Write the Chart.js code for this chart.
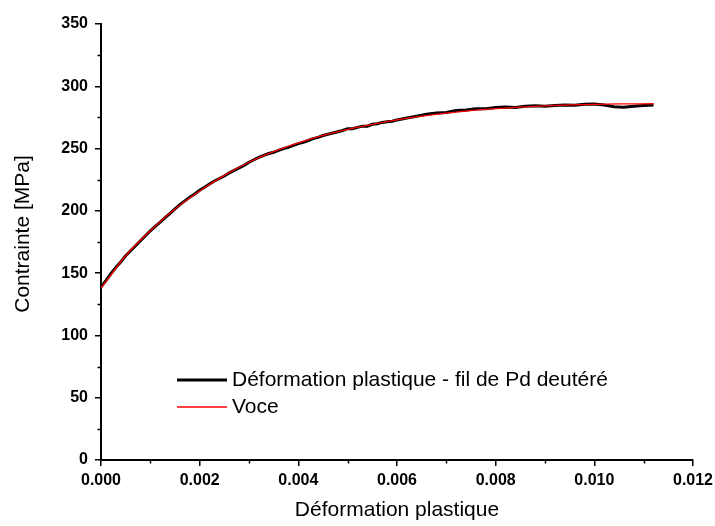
<!DOCTYPE html>
<html>
<head>
<meta charset="utf-8">
<script src="https://cdn.jsdelivr.net/npm/chart.js@4.4.1/dist/chart.umd.min.js"></script>
<style>
  html, body { margin: 0; padding: 0; background: #fff; }
  #wrap { width: 715px; height: 526px; }
</style>
</head>
<body>
<div id="wrap"><canvas id="c" width="715" height="526"></canvas></div>
<script>
// measured curve (black)
var strain = [0.0000, 0.0001, 0.0002, 0.0003, 0.0004, 0.0005, 0.0006, 0.0007, 0.0008, 0.0009,
  0.0010, 0.0011, 0.0012, 0.0013, 0.0014, 0.0015, 0.0016, 0.0017, 0.0018, 0.0019,
  0.0020, 0.0021, 0.0022, 0.0023, 0.0024, 0.0025, 0.0026, 0.0027, 0.0028, 0.0029,
  0.0030, 0.0031, 0.0032, 0.0033, 0.0034, 0.0035, 0.0036, 0.0037, 0.0038, 0.0039,
  0.0040, 0.0041, 0.0042, 0.0043, 0.0044, 0.0045, 0.0046, 0.0047, 0.0048, 0.0049,
  0.0050, 0.0051, 0.0052, 0.0053, 0.0054, 0.0055, 0.0056, 0.0057, 0.0058, 0.0059,
  0.0060, 0.0062, 0.0064, 0.0066, 0.0068, 0.0070, 0.0072, 0.0074, 0.0076, 0.0078,
  0.0080, 0.0082, 0.0084, 0.0086, 0.0088, 0.0090, 0.0092, 0.0094, 0.0096, 0.0098,
  0.0100, 0.0102, 0.0104, 0.0106, 0.0108, 0.0110, 0.0112];
var stress = [139, 144, 149.5, 154.5, 159, 164, 168, 172, 176, 180,
  184, 187.5, 191, 194.5, 198, 201.5, 205, 208, 211, 213.5,
  216.5, 219, 221.5, 224, 226, 228, 230.5, 232.5, 234.5, 236.5,
  239, 241, 243, 244.5, 246, 247, 248.5, 250, 251, 252.5,
  254, 255, 256.5, 258, 259, 260.5, 261.5, 262.5, 263.5, 264.5,
  266, 266, 267, 268, 268, 269.5, 270, 271, 271.5, 272,
  273, 274.5, 276, 277.5, 278.5, 279, 280.5, 281, 282, 282,
  283, 283.3, 283, 284, 284.3, 284, 284.5, 285, 284.8, 285.5,
  285.8, 285, 283.5, 283.2, 284, 284.5, 285];

// Voce fit (red)
var voceStrain = [0.0000, 0.0005, 0.0010, 0.0015, 0.0020, 0.0025, 0.0030, 0.0035, 0.0040, 0.0045,
  0.0050, 0.0055, 0.0060, 0.0065, 0.0070, 0.0075, 0.0080, 0.0085, 0.0090, 0.0095,
  0.0100, 0.0105, 0.0112];
var voceStress = [138, 164, 184, 201.5, 216, 228.5, 239, 247.5, 254.5, 260.5,
  265.5, 269.5, 273, 276, 278.5, 280.5, 282, 283.2, 284.2, 285,
  285.5, 285.8, 286];

var xTicks = [0, 0.002, 0.004, 0.006, 0.008, 0.010, 0.012];
var yTicks = [0, 50, 100, 150, 200, 250, 300, 350];

var legendLabels = ['Déformation plastique - fil de Pd deutéré', 'Voce'];
var yTitle = 'Contrainte [MPa]';

function pts(xs, ys) {
  return xs.map(function (x, i) { return { x: x, y: ys[i] }; });
}

var FONT = '"Liberation Sans", Arial, sans-serif';

// minor ticks, y title and in-plot legend
var extras = {
  id: 'extras',
  afterDraw: function (chart) {
    var ctx = chart.ctx, xs = chart.scales.x, ys = chart.scales.y, a = chart.chartArea;
    ctx.save();
    ctx.strokeStyle = '#000';
    ctx.lineWidth = 1.5;
    ctx.beginPath();
    for (var v = 0.001; v < 0.012; v += 0.002) {
      var px = Math.round(xs.getPixelForValue(v)) + 0.5;
      ctx.moveTo(px, a.bottom); ctx.lineTo(px, a.bottom + 3.5);
    }
    for (var w = 25; w < 350; w += 50) {
      var py = Math.round(ys.getPixelForValue(w)) + 0.5;
      ctx.moveTo(a.left, py); ctx.lineTo(a.left - 3.5, py);
    }
    ctx.stroke();

    ctx.fillStyle = '#000';
    ctx.font = '21px ' + FONT;
    ctx.textAlign = 'center';
    ctx.textBaseline = 'middle';
    ctx.save();
    ctx.translate(23, (a.top + a.bottom) / 2 - 8);
    ctx.rotate(-Math.PI / 2);
    ctx.fillText(yTitle, 0, 0);
    ctx.restore();

    var lx = a.left + 76, ly = Math.round(a.top + 356);
    ctx.textAlign = 'left';
    ctx.lineWidth = 3;
    ctx.strokeStyle = '#000';
    ctx.beginPath(); ctx.moveTo(lx, ly); ctx.lineTo(lx + 50, ly); ctx.stroke();
    ctx.fillText(legendLabels[0], lx + 55, ly);
    ctx.lineWidth = 1.5;
    ctx.strokeStyle = '#ff0000';
    ctx.beginPath(); ctx.moveTo(lx, ly + 27); ctx.lineTo(lx + 50, ly + 27); ctx.stroke();
    ctx.fillText(legendLabels[1], lx + 55, ly + 27);
    ctx.restore();
  }
};

new Chart(document.getElementById('c'), {
  type: 'line',
  data: {
    datasets: [
      {
        label: legendLabels[0],
        data: pts(strain, stress),
        borderColor: '#000',
        borderWidth: 3,
        pointRadius: 0,
        tension: 0,
        order: 2
      },
      {
        label: legendLabels[1],
        data: pts(voceStrain, voceStress),
        borderColor: '#ff0000',
        borderWidth: 1.3,
        pointRadius: 0,
        cubicInterpolationMode: 'monotone',
        order: 1
      }
    ]
  },
  options: {
    responsive: false,
    animation: false,
    events: [],
    layout: { padding: { top: 24, right: 22, left: 0, bottom: 0 } },
    plugins: { legend: { display: false }, tooltip: { enabled: false } },
    scales: {
      x: {
        type: 'linear',
        min: 0, max: 0.012,
        afterBuildTicks: function (s) { s.ticks = xTicks.map(function (v) { return { value: v }; }); },
        afterFit: function (s) { s.height = 66; s.paddingRight = 0; s.paddingLeft = 0; },
        border: { display: true, color: '#000', width: 2 },
        grid: { drawOnChartArea: false, drawTicks: true, tickLength: 6, color: '#000', lineWidth: 1.5 },
        ticks: {
          padding: 5,
          color: '#000',
          font: { family: FONT, size: 16, weight: 'bold' },
          maxRotation: 0,
          callback: function (v) { return v.toFixed(3); }
        },
        title: {
          display: true,
          text: 'Déformation plastique',
          color: '#000',
          font: { family: FONT, size: 21 },
          padding: { top: 0, bottom: 3 }
        }
      },
      y: {
        type: 'linear',
        min: 0, max: 350,
        afterBuildTicks: function (s) { s.ticks = yTicks.map(function (v) { return { value: v }; }); },
        afterFit: function (s) { s.width = 101; },
        border: { display: true, color: '#000', width: 2 },
        grid: { drawOnChartArea: false, drawTicks: true, tickLength: 6, color: '#000', lineWidth: 1.5 },
        ticks: {
          padding: 7,
          color: '#000',
          font: { family: FONT, size: 16, weight: 'bold' }
        },
        title: { display: false }
      }
    }
  },
  plugins: [extras]
});
</script>
</body>
</html>
